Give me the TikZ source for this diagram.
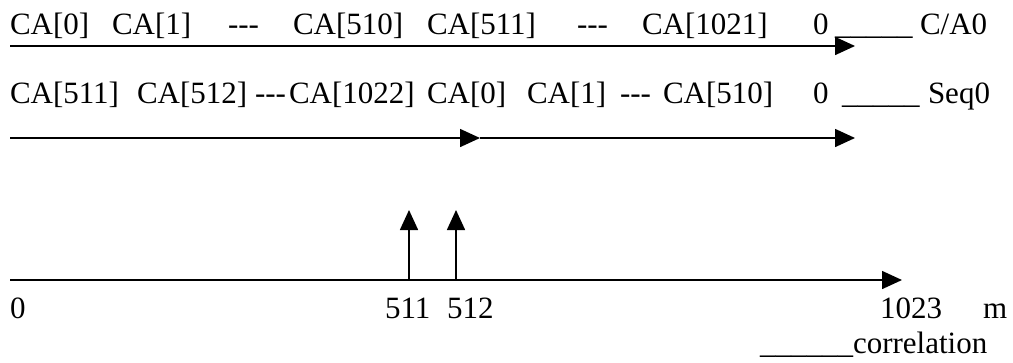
\documentclass[tikz,border=0pt]{standalone}
\usepackage{fontspec}
\setmainfont{Liberation Serif}
\usetikzlibrary{arrows.meta}
\newcommand{\tridash}{-{}-{}-}
\begin{document}
\begin{tikzpicture}[x=1pt,y=-1pt,
  lbl/.style={anchor=base west,inner sep=0pt,outer sep=0pt,font=\fontsize{31}{36}\selectfont},
  axis/.style={line width=1.6pt,-{Triangle[length=20pt,width=18pt]}}]
\useasboundingbox (0,0) rectangle (1013,362);
% first row: C/A0 code
\node[lbl] (a0) at (10,34) {CA[0]};
\node[lbl] (a1) at (112,34) {CA[1]};
\node[lbl] (a2) at (228,34) {\tridash};
\node[lbl] (a3) at (293,34) {CA[510]};
\node[lbl] (a4) at (427,34) {CA[511]};
\node[lbl] (a5) at (577,34) {\tridash};
\node[lbl] (a6) at (642,34) {CA[1021]};
\node[lbl] (a7) at (813,34) {0};
\node[lbl] (a8) at (835,34) {\_\_\_\_\_};
\node[lbl] (a9) at (920,34) {C/A0};
\coordinate (r1s) at (10,46);
\coordinate (r1e) at (855,46);
\draw[axis] (r1s) -- (r1e);
% second row: shifted sequence Seq0
\node[lbl] (b0) at (10,103) {CA[511]};
\node[lbl] (b1) at (137,103) {CA[512]};
\node[lbl] (b2) at (255,103) {\tridash};
\node[lbl] (b3) at (289,103) {CA[1022]};
\node[lbl] (b4) at (427,103) {CA[0]};
\node[lbl] (b5) at (527,103) {CA[1]};
\node[lbl] (b6) at (620,103) {\tridash};
\node[lbl] (b7) at (663,103) {CA[510]};
\node[lbl] (b8) at (813,103) {0};
\node[lbl] (b9) at (842,103) {\_\_\_\_\_};
\node[lbl] (b10) at (928,103) {Seq0};
\coordinate (r2s) at (10,138);
\coordinate (r2m) at (480,138);
\coordinate (r2e) at (855,138);
\draw[axis] (r2s) -- (r2m);
\draw[axis] (r2m) -- (r2e);
% correlation axis with two peaks
\coordinate (ax0) at (10,280);
\coordinate (ax1) at (902,280);
\draw[axis] (ax0) -- (ax1);
\coordinate (p1b) at (409,280);
\coordinate (p1t) at (409,210);
\coordinate (p2b) at (456,280);
\coordinate (p2t) at (456,210);
\draw[axis] (p1b) -- (p1t);
\draw[axis] (p2b) -- (p2t);
\node[lbl] (c0) at (10,318) {0};
\node[lbl] (c1) at (385,318) {511};
\node[lbl] (c2) at (447,318) {512};
\node[lbl] (c3) at (880,318) {1023};
\node[lbl] (c4) at (983,318) {m};
\node[lbl] (c5) at (760,353) {\_\_\_\_\_\_correlation};
\end{tikzpicture}
\end{document}
